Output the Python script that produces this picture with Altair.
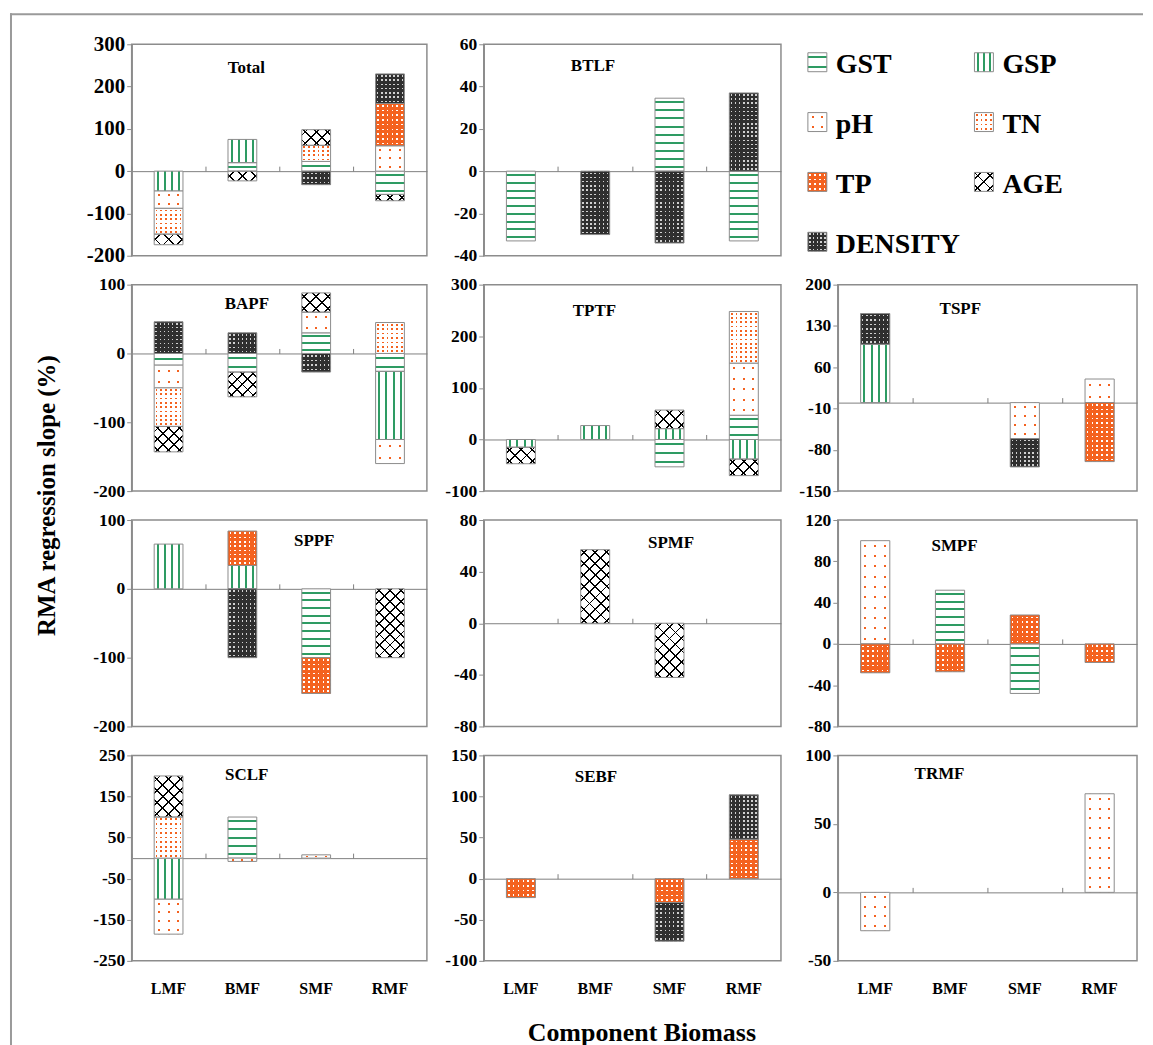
import math
import altair as alt

# ---------------- data ----------------
CATS = ["LMF", "BMF", "SMF", "RMF"]
SERIES = ["GST", "GSP", "pH", "TN", "TP", "AGE", "DENSITY"]

total = {"GST": [0, 20, 23, -55], "GSP": [-47, 55, 0, 0], "pH": [-41, 0, 0, 60],
         "TN": [-61, 0, 38, 0], "TP": [0, 0, 0, 100], "AGE": [-25, -23, 37, -15],
         "DENSITY": [0, 0, -32, 70]}
btlf = {"GST": [-33, 0, 34.5, -33], "DENSITY": [0, -30, -34, 37]}
bapf = {"GST": [-17, -27, 30, -26], "GSP": [0, 0, 0, -99], "pH": [-33, 0, 30, -35],
        "TN": [-56, 0, 0, 45], "AGE": [-37, -36, 28, 0], "DENSITY": [46, 30, -27, 0]}
tptf = {"GST": [0, 0, -53, 47], "GSP": [-15, 27, 21, -38], "pH": [0, 0, 0, 101],
        "TN": [0, 0, 0, 100], "AGE": [-32, 0, 36, -32]}
tspf = {"GSP": [99, 0, 0, 0], "pH": [0, 0, -61, 40], "TP": [0, 0, 0, -100],
        "DENSITY": [52, 0, -48, 0]}
sppf = {"GST": [0, 0, -100, 0], "GSP": [65, 34, 0, 0], "TP": [0, 50, -52, 0],
        "AGE": [0, 0, 0, -100], "DENSITY": [0, -100, 0, 0]}
spmf = {"AGE": [0, 57, -42, 0]}
smpf = {"GST": [0, 52, -48, 0], "pH": [100, 0, 0, 0], "TP": [-28, -27, 28, -18]}
sclf = {"GST": [0, 100, 0, 0], "GSP": [-100, 0, 0, 0], "pH": [-85, -8, 8, 0],
        "TN": [100, 0, 0, 0], "AGE": [100, 0, 0, 0]}
sebf = {"TP": [-23, 0, -29, 48], "DENSITY": [0, 0, -47, 54]}
trmf = {"pH": [-28, 0, 0, 72]}

TICKS = {
    "Total": [-200, -100, 0, 100, 200, 300],
    "BTLF": [-40, -20, 0, 20, 40, 60],
    "BAPF": [-200, -100, 0, 100],
    "TPTF": [-100, 0, 100, 200, 300],
    "TSPF": [-150, -80, -10, 60, 130, 200],
    "SPPF": [-200, -100, 0, 100],
    "SPMF": [-80, -40, 0, 40, 80],
    "SMPF": [-80, -40, 0, 40, 80, 120],
    "SCLF": [-250, -150, -50, 50, 150, 250],
    "SEBF": [-100, -50, 0, 50, 100, 150],
    "TRMF": [-50, 0, 50, 100],
}
DATA = {"Total": total, "BTLF": btlf, "BAPF": bapf, "TPTF": tptf, "TSPF": tspf,
        "SPPF": sppf, "SPMF": spmf, "SMPF": smpf, "SCLF": sclf, "SEBF": sebf,
        "TRMF": trmf}

# ---------------- styling ----------------
FONT = "Liberation Serif"
FRAME = "#8c8c8c"
GREEN = "#2e9b63"
ORANGE = "#f4621f"
DARK = "#2f2f2f"
CLEAR = "rgba(255,255,255,0)"
BAR_FRAC = 0.39

COL_W = [296, 298, 300]
ROW_H = [212, 207, 207, 206]
GRID = [["Total", "BTLF", None],
        ["BAPF", "TPTF", "TSPF"],
        ["SPPF", "SPMF", "SMPF"],
        ["SCLF", "SEBF", "TRMF"]]
TITLE_POS = {"Total": (115, 28.7), "BTLF": (109.5, 27), "BAPF": (115.5, 24.3),
             "TPTF": (111, 31.7), "TSPF": (122.8, 29), "SPPF": (183, 25.7),
             "SPMF": (187.8, 28.3), "SMPF": (117, 31.3), "SCLF": (115.3, 24.7),
             "SEBF": (112.5, 26.3), "TRMF": (102, 24)}
LABEL_SIZE = {"Total": 21}

VX = dict(x1=0, y1=0, x2=1, y2=0)
VY = dict(x1=0, y1=0, x2=0, y2=1)


def rnd(v):
    return round(v, 4)


def stripes(length, spacing, thick, fg, bg, vec):
    n = max(1, int(round(length / spacing)))
    period = length / n if length > 0 else spacing
    frac = min(0.6, thick / period)
    stops = [{"offset": 0, "color": bg}]
    for k in range(n):
        a = rnd((k + (1 - frac) / 2) / n)
        b = rnd((k + (1 + frac) / 2) / n)
        stops += [{"offset": a, "color": bg}, {"offset": a, "color": fg},
                  {"offset": b, "color": fg}, {"offset": b, "color": bg}]
    stops.append({"offset": 1, "color": bg})
    g = {"gradient": "linear"}
    g.update(vec)
    g["stops"] = stops
    return g


def diag(w, h, spacing, thick, fg, bg, anti=False):
    r = h / w
    lam = (1 + r) / (1 + r * r)
    if anti:
        vec = dict(x1=1, y1=0, x2=rnd(1 - lam), y2=rnd(lam * r))
    else:
        vec = dict(x1=0, y1=0, x2=rnd(lam), y2=rnd(lam * r))
    L = (w + h) / math.sqrt(2)
    return stripes(L, spacing, thick, fg, bg, vec)


def pattern(s, w, h):
    if s == "GST":
        return stripes(h, 8, 2, GREEN, "white", VY), CLEAR
    if s == "GSP":
        return stripes(w, 7.3, 2, GREEN, "white", VX), CLEAR
    if s == "pH":
        return (stripes(w, 9, 2, ORANGE, "white", VX),
                stripes(h, 10, 2, CLEAR, "white", VY))
    if s == "TN":
        return (stripes(w, 4.5, 1.8, ORANGE, "white", VX),
                stripes(h, 4.5, 1.8, CLEAR, "white", VY))
    if s == "TP":
        return (stripes(w, 4.5, 1.6, "white", ORANGE, VX),
                stripes(h, 4.5, 1.6, CLEAR, ORANGE, VY))
    if s == "DENSITY":
        return (stripes(w, 4.2, 1.5, "#d0d0d0", DARK, VX),
                stripes(h, 4.2, 1.5, CLEAR, DARK, VY))
    # AGE
    return (diag(w, h, 8, 1.3, "black", "white"),
            diag(w, h, 8, 1.3, "black", CLEAR, anti=True))


def make_panel(name, W, H, bottom_row):
    ticks = TICKS[name]
    lo, hi = ticks[0], ticks[-1]
    bw = BAR_FRAC * W / 4
    rows = []
    for si, s in enumerate(SERIES):
        vals = DATA[name].get(s)
        if not vals:
            continue
        for ci, cat in enumerate(CATS):
            v = vals[ci]
            if not v:
                continue
            h = abs(v) * H / (hi - lo)
            g1, g2 = pattern(s, bw, h)
            rows.append({"cat": cat, "s": s, "si": si, "v": v, "g1": g1, "g2": g2})

    xsc = alt.Scale(domain=CATS, paddingInner=0, paddingOuter=0)
    ysc = alt.Scale(domain=[lo, hi], nice=False, zero=False)

    yax = dict(values=ticks, grid=False, domainColor=FRAME, domainWidth=1.5,
               tickColor=FRAME, tickSize=5, tickWidth=1,
               labelExpr="'' + datum.value",
               labelFontSize=LABEL_SIZE.get(name, 17.5), labelPadding=2,
               labelFont=FONT, labelFontWeight="bold", labelColor="black")
    if name == "SPPF":
        yax.update(title="RMA regression slope (%)", titleX=-77, titleY=-25,
                   titleAngle=270, titleAlign="center", titleBaseline="alphabetic",
                   titleFont=FONT, titleFontSize=25, titleFontWeight="bold",
                   titleColor="black")
    else:
        yax["title"] = None

    if bottom_row:
        bx = dict(orient="bottom", domain=False, ticks=False, labelPadding=20,
                  labelFont=FONT, labelFontSize=16, labelFontWeight="bold",
                  labelColor="black", labelAngle=0, grid=False)
        if name == "SEBF":
            bx.update(title="Component Biomass", titleX=158, titleY=80,
                      titleAlign="center", titleBaseline="alphabetic",
                      titleFont=FONT, titleFontSize=26, titleFontWeight="bold",
                      titleColor="black")
        else:
            bx["title"] = None
        xbottom = alt.Axis(**bx)
    else:
        xbottom = None

    yz = H * hi / (hi - lo)
    xzero = alt.Axis(orient="top", offset=-yz, labels=False, ticks=True, tickSize=5,
                     bandPosition=0, domain=True, domainColor="#808080",
                     domainWidth=1, tickColor="#808080", tickWidth=1,
                     title=None, grid=False)

    base = alt.Chart(alt.Data(values=rows))
    under = base.mark_bar(width=alt.RelativeBandSize(band=BAR_FRAC), strokeWidth=0).encode(
        x=alt.X("cat:N", scale=xsc, axis=xbottom),
        y=alt.Y("v:Q", scale=ysc, stack="zero", axis=alt.Axis(**yax)),
        order=alt.Order("si:Q"),
        fill=alt.Fill("g1:N", scale=None),
    )
    over = base.mark_bar(width=alt.RelativeBandSize(band=BAR_FRAC), stroke=FRAME,
                         strokeWidth=1).encode(
        x=alt.X("cat:N", scale=xsc, axis=xzero),
        y=alt.Y("v:Q", scale=ysc, stack="zero", axis=None),
        order=alt.Order("si:Q"),
        fill=alt.Fill("g2:N", scale=None),
    )
    tx, ty = TITLE_POS[name]
    ttl = alt.Chart(alt.Data(values=[{"t": name}])).mark_text(
        align="center", baseline="alphabetic", font=FONT, fontSize=17,
        fontWeight="bold", color="black").encode(
        text="t:N", x=alt.value(tx), y=alt.value(ty))
    layers = [under, over, ttl]
    if name == "Total":
        one = alt.Chart(alt.Data(values=[{"k": 1}]))
        layers.append(one.mark_rule(color="#9a9a9a", strokeWidth=2).encode(
            x=alt.value(-121), y=alt.value(-31), y2=alt.value(1004)))
        layers.append(one.mark_rule(color="#9a9a9a", strokeWidth=2).encode(
            x=alt.value(-122), x2=alt.value(1014), y=alt.value(-30)))
    return alt.layer(*layers).resolve_axis(
        x="independent", y="independent").properties(width=W, height=H)


def make_legend(W, H):
    rows = []
    for i, s in enumerate(SERIES):
        g1, g2 = pattern(s, 19, 19)
        rows.append({"s": s, "col": i % 2, "row": i // 2, "g1": g1, "g2": g2})
    base = alt.Chart(alt.Data(values=rows))
    lx = alt.Scale(domain=[0, 1], range=[-20.5, 146.5])
    ly = alt.Scale(domain=[0, 3], range=[18, 198])
    enc = dict(x=alt.X("col:Q", scale=lx, axis=None), y=alt.Y("row:Q", scale=ly, axis=None))
    sq1 = base.mark_square(size=361, opacity=1, strokeWidth=0).encode(
        fill=alt.Fill("g1:N", scale=None), **enc)
    sq2 = base.mark_square(size=361, opacity=1, stroke=FRAME, strokeWidth=1).encode(
        fill=alt.Fill("g2:N", scale=None), **enc)
    txt = base.mark_text(align="left", baseline="alphabetic", dx=18.5, dy=11,
                         font=FONT, fontSize=28, fontWeight="bold", color="black").encode(
        text="s:N", **enc)
    return alt.layer(sq1, sq2, txt).properties(
        width=W, height=H, view=alt.ViewBackground(stroke="transparent"))


cells = []
for ri, row in enumerate(GRID):
    for ci, name in enumerate(row):
        W, H = COL_W[ci], ROW_H[ri]
        if name is None:
            cells.append(make_legend(W, H))
        else:
            cells.append(make_panel(name, W, H, ri == len(GRID) - 1))

chart = alt.concat(*cells, columns=3).properties(
    bounds="flush", align="each", spacing={"row": 29, "column": 57},
    padding={"left": 0, "top": 2, "right": 0, "bottom": 0},
).configure(font=FONT).configure_view(stroke=FRAME, strokeWidth=1.5)

chart.save("out.html", embed_options={"renderer": "svg", "actions": False})
